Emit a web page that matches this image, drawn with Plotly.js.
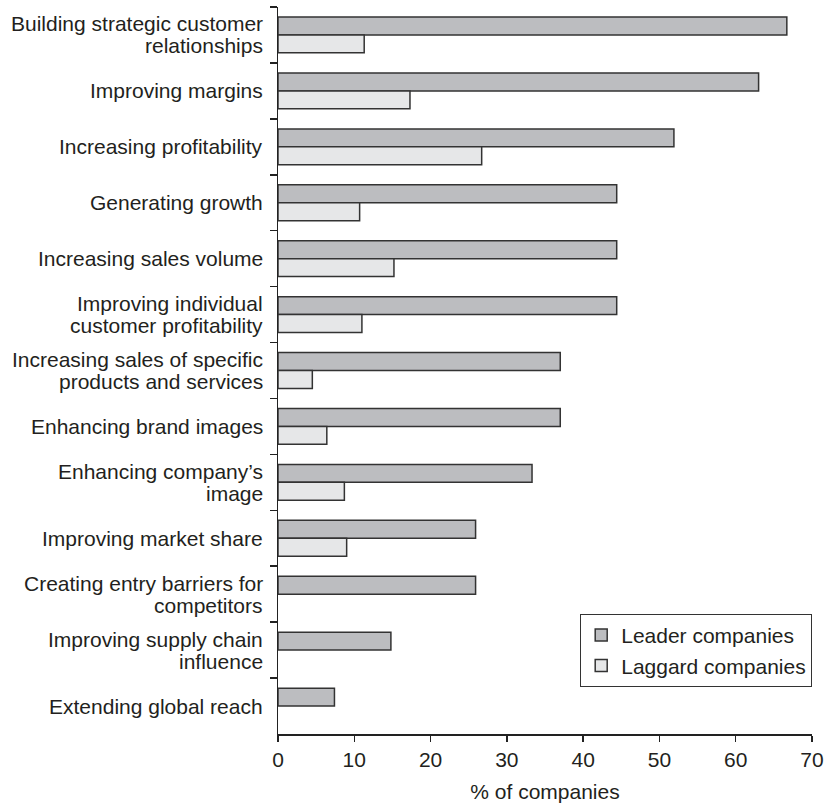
<!DOCTYPE html>
<html>
<head>
<meta charset="utf-8">
<script src="https://cdn.plot.ly/plotly-3.0.1.min.js"></script>
<style>
  html, body { margin: 0; padding: 0; background: #ffffff; }
  #chart { width: 826px; height: 806px; }
</style>
</head>
<body>
<div id="chart"></div>
<script>
// Business benefits of the customer strategy, leaders vs laggards
const categories = [
  "Building strategic customer<br>relationships",
  "Improving margins",
  "Increasing profitability",
  "Generating growth",
  "Increasing sales volume",
  "Improving individual<br>customer profitability",
  "Increasing sales of specific<br>products and services",
  "Enhancing brand images",
  "Enhancing company\u2019s<br>image",
  "Improving market share",
  "Creating entry barriers for<br>competitors",
  "Improving supply chain<br>influence",
  "Extending global reach"
];

const leaderValues  = [66.7, 63.0, 51.9, 44.4, 44.4, 44.4, 37.0, 37.0, 33.3, 25.9, 25.9, 14.8, 7.4];
const laggardValues = [11.3, 17.3, 26.7, 10.7, 15.2, 11.0, 4.5, 6.4, 8.7, 9.0, null, null, null];

const seriesNames = ["Leader companies", "Laggard companies"];
const xTicks = [0, 10, 20, 30, 40, 50, 60, 70];
const xTitle = "% of companies";

const FONT = "Liberation Sans, Arial, Helvetica, sans-serif";
const INK = "#231f20";
const FS = 21;

const traces = [
  {
    type: "bar", orientation: "h", name: seriesNames[0],
    y: categories, x: leaderValues,
    marker: { color: "#bcbdc0", line: { color: "#333333", width: 1.5 } },
    hoverinfo: "skip"
  },
  {
    type: "bar", orientation: "h", name: seriesNames[1],
    y: categories, x: laggardValues,
    marker: { color: "#e6e7e8", line: { color: "#333333", width: 1.5 } },
    hoverinfo: "skip"
  }
];

// Category labels, one annotation per text line so the line spacing stays tight
const LINE_GAP = 22;
const annotations = [];
categories.forEach(function (cat) {
  const lines = cat.split("<br>");
  lines.forEach(function (line, i) {
    annotations.push({
      xref: "paper", yref: "y", x: 0, y: cat,
      xanchor: "right", yanchor: "middle",
      xshift: -13,
      yshift: ((lines.length - 1) / 2 - i) * LINE_GAP,
      text: line, showarrow: false,
      font: { family: FONT, size: FS, color: INK }
    });
  });
});

const layout = {
  width: 826, height: 806,
  margin: { l: 278, r: 14, t: 7, b: 72 },
  paper_bgcolor: "#ffffff", plot_bgcolor: "#ffffff",
  font: { family: FONT, size: FS, color: INK },
  barmode: "group", bargap: 0.36, bargroupgap: 0,
  showlegend: true,
  legend: {
    x: 1, xanchor: "right", y: 0.065, yanchor: "bottom",
    bordercolor: "#333333", borderwidth: 1.2, bgcolor: "#ffffff",
    font: { family: FONT, size: FS, color: INK },
    traceorder: "normal", tracegroupgap: 0, itemwidth: 30
  },
  xaxis: {
    range: [0, 70], tickvals: xTicks, ticktext: xTicks.map(String),
    showgrid: false, zeroline: false,
    showline: true, linecolor: "#222222", linewidth: 1.5,
    ticks: "outside", ticklen: 6, tickwidth: 1.5, tickcolor: "#222222",
    tickfont: { family: FONT, size: FS, color: INK },
    title: { text: xTitle, font: { family: FONT, size: FS, color: INK }, standoff: 14 },
    fixedrange: true
  },
  yaxis: {
    type: "category", autorange: false, range: [categories.length - 0.5, -0.5],
    showticklabels: false, showgrid: false, zeroline: false,
    showline: true, linecolor: "#222222", linewidth: 1.5,
    ticks: "outside", tickson: "boundaries", ticklen: 7, tickwidth: 1.5, tickcolor: "#222222",
    fixedrange: true
  },
  annotations: annotations
};

Plotly.newPlot("chart", traces, layout, { displayModeBar: false, staticPlot: true });
</script>
</body>
</html>
